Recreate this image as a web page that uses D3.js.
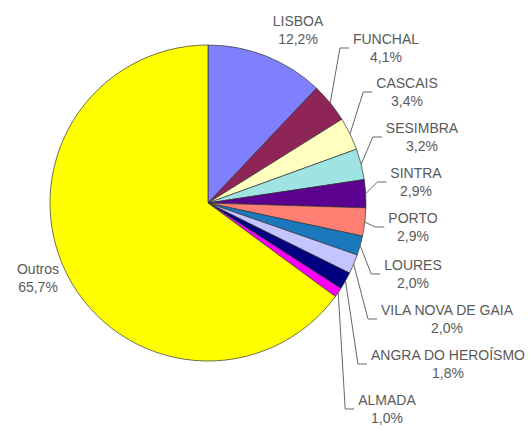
<!DOCTYPE html>
<html>
<head>
<meta charset="utf-8">
<script src="https://cdn.jsdelivr.net/npm/d3@7"></script>
<style>
  html, body { margin: 0; padding: 0; background: #fff; }
  svg { display: block; }
  text { font-family: Arial, "Liberation Sans", sans-serif; font-size: 14px; fill: #5a5a5a; }
</style>
</head>
<body>
<svg id="chart" width="532" height="430"></svg>
<script>
// Municipalities, clockwise from 12 o'clock
const categories = ["LISBOA", "FUNCHAL", "CASCAIS", "SESIMBRA", "SINTRA", "PORTO",
  "LOURES", "VILA NOVA DE GAIA", "ANGRA DO HEROÍSMO", "ALMADA", "Outros"];
const shares = [12.2, 4.1, 3.4, 3.2, 2.9, 2.9, 2.0, 2.0, 1.8, 1.0, 65.7];
const shareLabels = ["12,2%", "4,1%", "3,4%", "3,2%", "2,9%", "2,9%",
  "2,0%", "2,0%", "1,8%", "1,0%", "65,7%"];
const sliceColors = ["#8080ff", "#8f2459", "#ffffc0", "#9fe3e3", "#5c0090", "#ff8072",
  "#1a78bc", "#c4c4ff", "#000080", "#ff00ff", "#ffff00"];

// Label anchors: centre x and centre of the two-line block
const labelPos = [
  [298, 30], [386, 48], [407, 92], [422, 137], [416, 182], [413, 227],
  [413, 274], [447, 319], [448, 364], [387, 409], [38, 278]
];
// Slices whose labels get a leader line
const hasLeader = [false, true, true, true, true, true, true, true, true, true, false];

const svg = d3.select("#chart");
const cx = 208, cy = 203, r = 158;

const pie = d3.pie().sort(null).value(d => d.v);
const data = categories.map((c, i) => ({ name: c, v: shares[i], lbl: shareLabels[i], i }));
const arcs = pie(data);
const arc = d3.arc().innerRadius(0).outerRadius(r);

const g = svg.append("g").attr("transform", `translate(${cx},${cy})`);

g.selectAll("path.slice")
  .data(arcs)
  .enter().append("path")
  .attr("class", "slice")
  .attr("d", arc)
  .attr("fill", d => sliceColors[d.index])
  .attr("stroke", "#333")
  .attr("stroke-width", 0.7)
  .attr("stroke-linejoin", "round");

// Leader lines from the rim to the label
const measure = svg.append("text").attr("visibility", "hidden");
function textWidth(s) { measure.text(s); return measure.node().getComputedTextLength(); }

arcs.forEach(d => {
  const i = d.index;
  const [lx, ly] = labelPos[i];
  if (hasLeader[i]) {
    const mid = (d.startAngle + d.endAngle) / 2;
    const sx = cx + r * Math.sin(mid), sy = cy - r * Math.cos(mid);
    const left = lx - textWidth(categories[i]) / 2;
    const ex = left - 4, elx = left - 13;
    svg.append("path")
      .attr("d", d3.line()([[sx, sy], [elx, ly], [ex, ly]]))
      .attr("fill", "none")
      .attr("stroke", "#666")
      .attr("stroke-width", 1);
  }
  const t = svg.append("text")
    .attr("text-anchor", "middle")
    .attr("x", lx);
  t.append("tspan").attr("x", lx).attr("y", ly - 4).text(categories[i]);
  t.append("tspan").attr("x", lx).attr("y", ly + 14).text(d.data.lbl);
});
measure.remove();
</script>
</body>
</html>
